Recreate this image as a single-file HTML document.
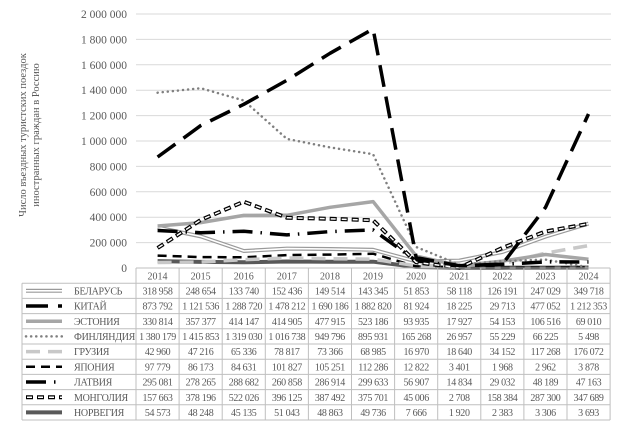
<!DOCTYPE html>
<html><head><meta charset="utf-8"><style>
body{margin:0;background:#fff;width:624px;height:427px;overflow:hidden;font-family:"Liberation Serif",serif}
svg text{font-family:"Liberation Serif",serif;fill:#595959}
</style></head><body>
<svg id="s" width="624" height="427" xmlns="http://www.w3.org/2000/svg"></svg>
<script>
const S=document.getElementById('s');const NS='http://www.w3.org/2000/svg';
function el(t,a,txt){const e=document.createElementNS(NS,t);for(const k in a)e.setAttribute(k,a[k]);if(txt!==undefined)e.textContent=txt;S.appendChild(e);return e;}
const X0=136,CW=43.1,Y0=268,H=254;
const yv=v=>Y0-v/2e6*H, xi=i=>X0+CW*(i+0.5);
for(let k=1;k<=10;k++){const y=Y0-k*H/10;el('line',{x1:X0,x2:611,y1:y,y2:y,stroke:'#d9d9d9','stroke-width':1});}
const yl=['0','200 000','400 000','600 000','800 000','1 000 000','1 200 000','1 400 000','1 600 000','1 800 000','2 000 000'];
yl.forEach((t,k)=>el('text',{x:127,y:Y0-k*H/10+4,'text-anchor':'end','font-size':'11.5'},t));
el('text',{transform:'translate(26,135) rotate(-90)','text-anchor':'middle','font-size':'10.5'},'Число въездных туристских поездок');
el('text',{transform:'translate(39,135) rotate(-90)','text-anchor':'middle','font-size':'10.5'},'иностранных граждан в Россию');
const names=['БЕЛАРУСЬ','КИТАЙ','ЭСТОНИЯ','ФИНЛЯНДИЯ','ГРУЗИЯ','ЯПОНИЯ','ЛАТВИЯ','МОНГОЛИЯ','НОРВЕГИЯ'];
const D=[
[318958,248654,133740,152436,149514,143345,51853,58118,126191,247029,349718],
[873792,1121536,1288720,1478212,1690186,1882820,81924,18225,29713,477052,1212353],
[330814,357377,414147,414905,477915,523186,93935,17927,54153,106516,69010],
[1380179,1415853,1319030,1016738,949796,895931,165268,26957,55229,66225,5498],
[42960,47216,65336,78817,73366,68985,16970,18640,34152,117268,176072],
[97779,86173,84631,101827,105251,112286,12822,3401,1968,2962,3878],
[295081,278265,288682,260858,286914,299633,56907,14834,29032,48189,47163],
[157663,378196,522026,396125,387492,375701,45006,2708,158384,287300,347689],
[54573,48248,45135,51043,48863,49736,7666,1920,2383,3306,3693]];
const ST=[
[{stroke:'#9a9a9a','stroke-width':4},{stroke:'#fff','stroke-width':1.6}],
[{stroke:'#000','stroke-width':3.5,'stroke-dasharray':'22 10'}],
[{stroke:'#a6a6a6','stroke-width':3.5}],
[{stroke:'#808080','stroke-width':2.5,'stroke-dasharray':'0.1 5','stroke-linecap':'round'}],
[{stroke:'#c8c8c8','stroke-width':3.5,'stroke-dasharray':'14 8'}],
[{stroke:'#000','stroke-width':2.5,'stroke-dasharray':'9 6'}],
[{stroke:'#000','stroke-width':3.5,'stroke-dasharray':'20 8 1.5 8'}],
[{stroke:'#000','stroke-width':4,'stroke-dasharray':'7 4'},{stroke:'#fff','stroke-width':1.5,'stroke-dasharray':'5 6','stroke-dashoffset':'-1'}],
[{stroke:'#595959','stroke-width':4}]];
const order=[8,5,4,0,2,3,6,7,1];
order.forEach(s=>{const pts=D[s].map((v,i)=>xi(i).toFixed(1)+','+yv(v).toFixed(1)).join(' ');
ST[s].forEach(st=>el('polyline',Object.assign({points:pts,fill:'none','stroke-linejoin':'round'},st)));});
const TL=22,TR=X0+CW*11,HT=268,RH=15.2;const bot=HT+RH*10;
const g='#bfbfbf';
el('line',{x1:X0,x2:TR,y1:HT,y2:HT,stroke:g});
for(let r=1;r<=10;r++){const y=HT+RH*r;el('line',{x1:TL,x2:TR,y1:y,y2:y,stroke:g});}
el('line',{x1:TL,x2:TL,y1:HT+RH,y2:bot,stroke:g});
for(let c=0;c<=11;c++){const x=X0+CW*c;el('line',{x1:x,x2:x,y1:HT,y2:bot,stroke:g});}
for(let c=0;c<11;c++)el('text',{x:xi(c),y:HT+11.5,'text-anchor':'middle','font-size':'10'},2014+c);
const fmt=v=>String(v).replace(/\B(?=(\d{3})+(?!\d))/g,' ');
D.forEach((row,r)=>{const cy=HT+RH*(r+1)+RH/2;
 row.forEach((v,c)=>el('text',{x:xi(c),y:cy+3.6,'text-anchor':'middle','font-size':'10','letter-spacing':'-0.35'},fmt(v)));
 el('text',{x:74,y:cy+3.6,'font-size':'10','letter-spacing':'-0.3'},names[r]);
 ST[r].forEach(st=>el('line',Object.assign({x1:26,x2:62,y1:cy,y2:cy},st)));
});
</script>
</body></html>
